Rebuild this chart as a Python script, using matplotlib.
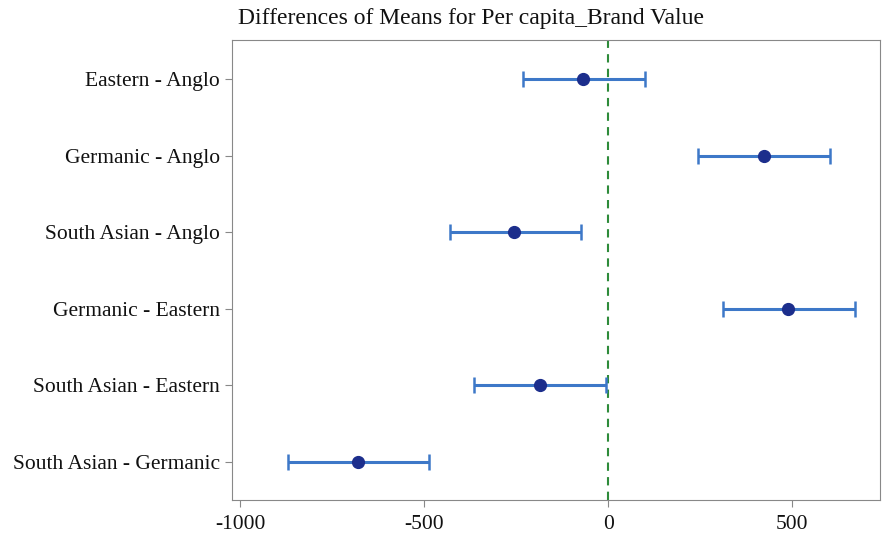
import matplotlib
matplotlib.use("Agg")
import matplotlib.pyplot as plt

# --- dados ---
comparacoes = ["Eastern - Anglo", "Germanic - Anglo", "South Asian - Anglo",
               "Germanic - Eastern", "South Asian - Eastern", "South Asian - Germanic"]
diferenca = [-68, 424, -255, 489, -185, -679]
limite_inf = [-231, 245, -429, 313, -364, -870]
limite_sup = [100, 603, -73, 671, -5, -487]

plt.rcParams["font.family"] = ["Liberation Serif", "DejaVu Serif"]
plt.rcParams["axes.unicode_minus"] = False

fig = plt.figure(figsize=(8.89, 5.37), dpi=100)
ax = fig.add_axes([0.261, 0.069, 0.729, 0.857])

pos = list(range(len(comparacoes)))
erro_inf = [d - l for d, l in zip(diferenca, limite_inf)]
erro_sup = [u - d for d, u in zip(diferenca, limite_sup)]

ax.errorbar(diferenca, pos, xerr=[erro_inf, erro_sup], fmt="none",
            ecolor="#3d78c8", elinewidth=2.2, capsize=6, capthick=1.8, zorder=2)
ax.plot(diferenca, pos, "o", color="#1c2e8c", markersize=8.5, zorder=3)
ax.axvline(0, color="#2e8b3a", linestyle=(0, (4, 3)), linewidth=1.5, zorder=1)

ax.set_xlim(-1022, 739)
ax.set_ylim(5.5, -0.52)
ax.set_xticks([-1000, -500, 0, 500])
ax.set_yticks(pos)
ax.set_yticklabels(comparacoes)
ax.tick_params(axis="both", labelsize=15.5, color="#888888", length=5, labelcolor="#111111")
ax.tick_params(axis="x", pad=6)
for s in ax.spines.values():
    s.set_color("#888888")

fig.text(0.530, 0.965, "Differences of Means for Per capita_Brand Value",
         ha="center", va="center", fontsize=17, color="#111111")

fig.savefig("out.png", dpi=100)
